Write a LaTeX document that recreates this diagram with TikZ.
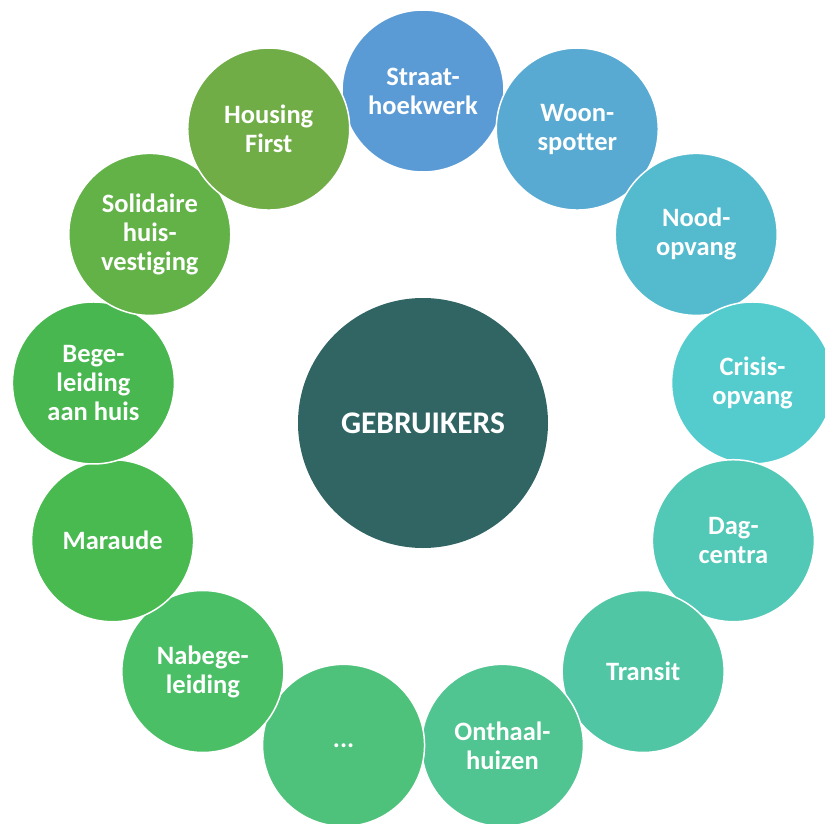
\documentclass[tikz,border=0pt]{standalone}
\usepackage{fontspec}
\setmainfont[Ligatures=NoCommon]{Carlito}
\definecolor{cA}{RGB}{91,155,213}
\definecolor{cB}{RGB}{88,170,210}
\definecolor{cC}{RGB}{84,186,205}
\definecolor{cD}{RGB}{84,204,206}
\definecolor{cE}{RGB}{82,200,183}
\definecolor{cF}{RGB}{80,198,165}
\definecolor{cG}{RGB}{80,196,145}
\definecolor{cH}{RGB}{78,194,122}
\definecolor{cI}{RGB}{74,191,102}
\definecolor{cJ}{RGB}{72,186,80}
\definecolor{cK}{RGB}{73,183,80}
\definecolor{cL}{RGB}{98,178,72}
\definecolor{cM}{RGB}{112,173,71}
\definecolor{cCenter}{RGB}{48,101,100}
\tikzset{
  ringnode/.style={circle, minimum size=162pt, inner sep=0pt, draw=white, line width=1.5pt,
    fill=#1, text=white, align=center, font=\fontsize{26.5}{29}\selectfont\bfseries},
  hubnode/.style={circle, minimum size=250pt, inner sep=0pt, fill=cCenter, text=white,
    font=\fontsize{31.5}{34}\selectfont\bfseries}
}
\begin{document}
\begin{tikzpicture}[x=1pt,y=-1pt]
\useasboundingbox (0,0) rectangle (825,824);
\def\R{332}
\node[hubnode] (hub) at (423,423) {GEBRUIKERS};
\node[ringnode=cA] (n1) at ({423+\R*sin(0*360/13)},{423-\R*cos(0*360/13)}) {Straat-\\hoekwerk};
\node[ringnode=cB] (n2) at ({423+\R*sin(1*360/13)},{423-\R*cos(1*360/13)}) {Woon-\\spotter};
\node[ringnode=cC] (n3) at ({423+\R*sin(2*360/13)},{423-\R*cos(2*360/13)}) {Nood-\\opvang};
\node[ringnode=cD] (n4) at ({423+\R*sin(3*360/13)},{423-\R*cos(3*360/13)}) {Crisis-\\opvang};
\node[ringnode=cE] (n5) at ({423+\R*sin(4*360/13)},{423-\R*cos(4*360/13)}) {Dag-\\centra};
\node[ringnode=cF] (n6) at ({423+\R*sin(5*360/13)},{423-\R*cos(5*360/13)}) {Transit};
\node[ringnode=cG] (n7) at ({423+\R*sin(6*360/13)},{423-\R*cos(6*360/13)}) {Onthaal-\\huizen};
\node[ringnode=cH] (n8) at ({423+\R*sin(7*360/13)},{423-\R*cos(7*360/13)}) {...};
\node[ringnode=cI] (n9) at ({423+\R*sin(8*360/13)},{423-\R*cos(8*360/13)}) {Nabege-\\leiding};
\node[ringnode=cJ] (n10) at ({423+\R*sin(9*360/13)},{423-\R*cos(9*360/13)}) {Maraude};
\node[ringnode=cK] (n11) at ({423+\R*sin(10*360/13)},{423-\R*cos(10*360/13)}) {Bege-\\leiding\\aan huis};
\node[ringnode=cL] (n12) at ({423+\R*sin(11*360/13)},{423-\R*cos(11*360/13)}) {Solidaire\\huis-\\vestiging};
\node[ringnode=cM] (n13) at ({423+\R*sin(12*360/13)},{423-\R*cos(12*360/13)}) {Housing\\First};
\end{tikzpicture}
\end{document}
